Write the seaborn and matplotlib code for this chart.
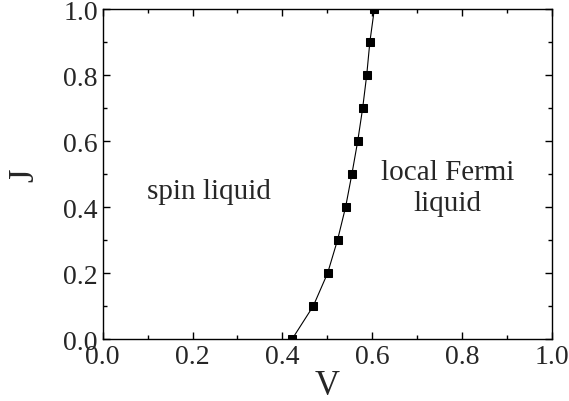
import pandas as pd
import seaborn as sns
import matplotlib.pyplot as plt
from matplotlib.ticker import MultipleLocator

# phase boundary
V = [0.422, 0.469, 0.501, 0.523, 0.541, 0.555, 0.568, 0.579, 0.588, 0.595, 0.605]
J = [0.0, 0.1, 0.2, 0.3, 0.4, 0.5, 0.6, 0.7, 0.8, 0.9, 1.0]
ticks = [0.0, 0.2, 0.4, 0.6, 0.8, 1.0]
tick_labels = ["0.0", "0.2", "0.4", "0.6", "0.8", "1.0"]

df = pd.DataFrame({"V": V, "J": J})

sns.set_style("ticks")
plt.rcParams["font.family"] = ["Liberation Serif", "DejaVu Serif"]

fig = plt.figure(figsize=(5.69, 4.02), dpi=100)
ax = fig.add_axes([0.1805, 0.1542, 0.7891, 0.8209])

sns.lineplot(x="V", y="J", data=df, ax=ax, color="black", linewidth=0.8,
             marker="s", markersize=5.5, markeredgecolor="black",
             markerfacecolor="black", sort=False)

ax.set_xlim(0, 1)
ax.set_ylim(0, 1)
ax.set_xticks(ticks)
ax.set_xticklabels(tick_labels)
ax.set_yticks(ticks)
ax.set_yticklabels(tick_labels)
ax.xaxis.set_minor_locator(MultipleLocator(0.1))
ax.yaxis.set_minor_locator(MultipleLocator(0.1))
ax.tick_params(which="both", direction="in", top=True, right=True,
               labelsize=20, width=1, color="black")
ax.tick_params(which="major", length=5)
ax.tick_params(which="minor", length=3)
for s in ax.spines.values():
    s.set_linewidth(1)
    s.set_color("black")

ax.set_xlabel("V", fontsize=25, labelpad=0)
ax.set_ylabel("J", fontsize=25, labelpad=16)

ax.text(0.098, 0.448, "spin liquid", fontsize=21, ha="left", va="center")
ax.text(0.768, 0.46, "local Fermi\nliquid", fontsize=21, ha="center",
        va="center", linespacing=1.25)

fig.savefig("out.png", dpi=100)
